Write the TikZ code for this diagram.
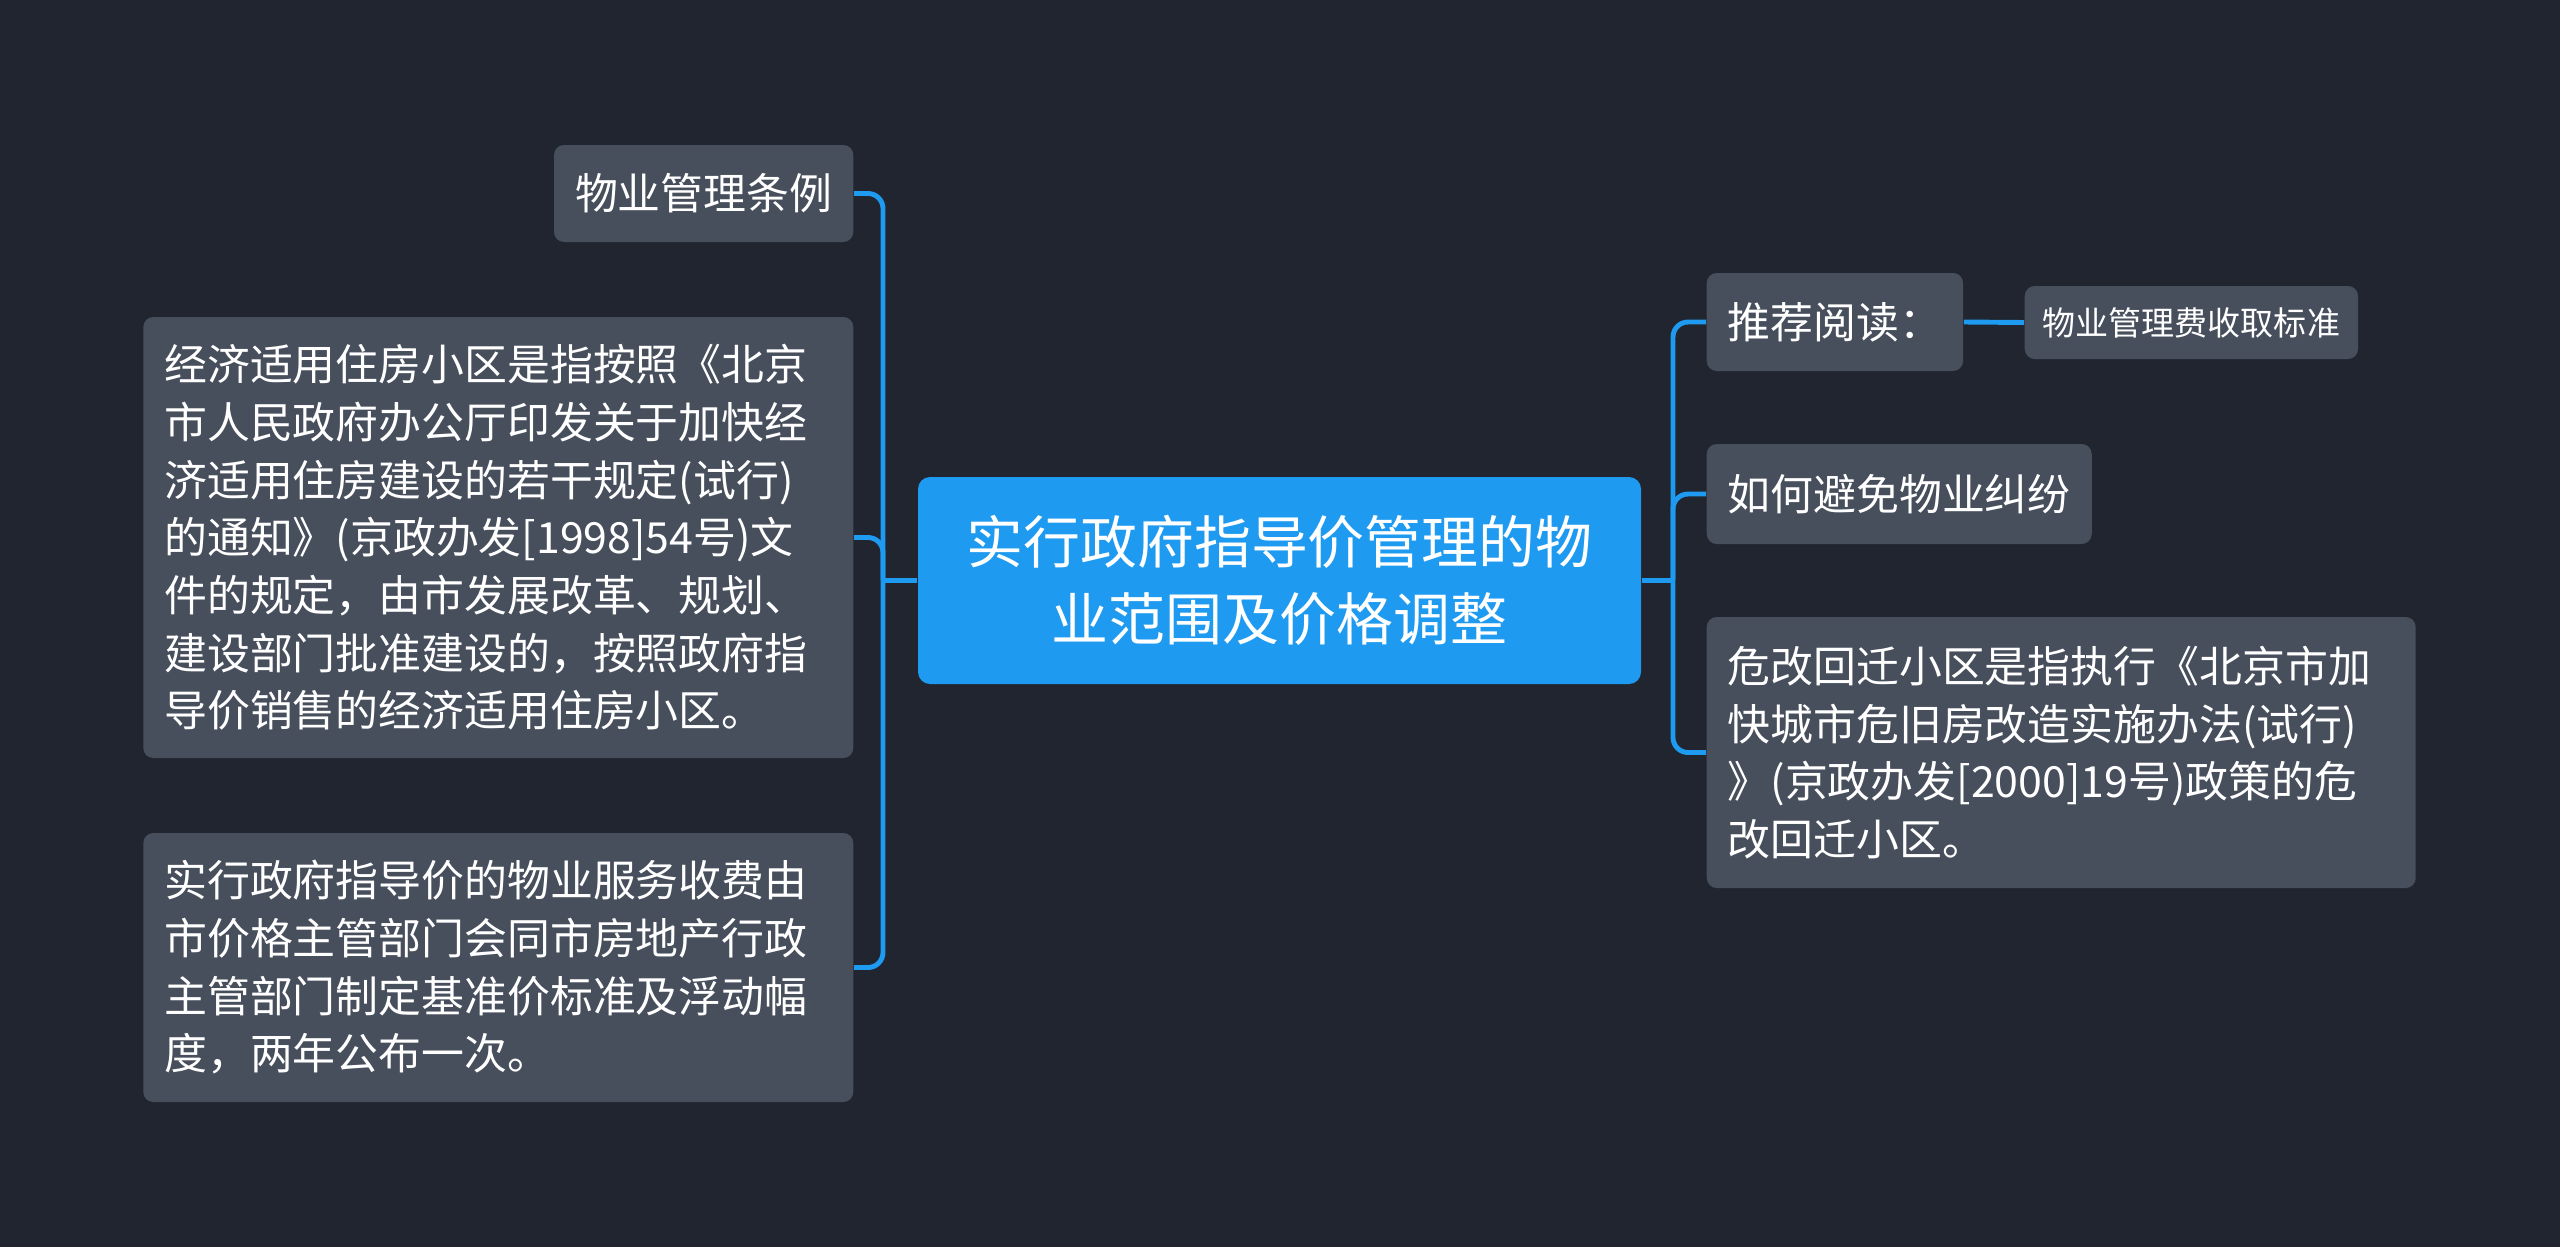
\documentclass[tikz,border=0pt]{standalone}
\usepackage{fontspec}
\setmainfont{Noto Sans CJK SC}
\usepackage{xcolor}
\usepackage{tikz}
\usetikzlibrary{positioning, calc}

\definecolor{bgdark}{HTML}{21252F}
\definecolor{boxgray}{HTML}{474E5C}
\definecolor{linkblue}{HTML}{1E9AF0}

\tikzset{
    topic/.style={fill=boxgray, text=white, rounded corners=0.1cm, inner xsep=0.21cm, inner ysep=0pt,
        font=\fontsize{12.2pt}{16.4pt}\selectfont, align=left},
    subtopic/.style={topic, inner xsep=0.18cm, font=\fontsize{9.4pt}{12pt}\selectfont},
    central/.style={fill=linkblue, text=white, rounded corners=0.12cm, inner sep=0pt,
        minimum width=7.23cm, minimum height=2.07cm, align=center,
        font=\fontsize{16.2pt}{21.8pt}\selectfont},
    link/.style={draw=linkblue, line width=1.4pt, rounded corners=0.15cm}
}

\begin{document}
\begin{tikzpicture}
    \fill[bgdark] (0,0) rectangle (25.6,-12.47);
    \useasboundingbox (0,0) rectangle (25.6,-12.47);

    \coordinate (C) at (12.795,-5.805);
    \coordinate (LB) at (8.83,-5.805);
    \coordinate (RB) at (16.73,-5.805);

    \node[central] (root) at (C) {实行政府指导价管理的物\\业范围及价格调整};

    \node[topic, anchor=east, minimum height=0.97cm] (law) at (8.54,-1.935) {物业管理条例};
    \node[topic, anchor=east, minimum height=4.41cm, text width=6.68cm] (affordable) at (8.54,-5.375)
        {经济适用住房小区是指按照《北京\\市人民政府办公厅印发关于加快经\\济适用住房建设的若干规定(试行)\\的通知》(京政办发[1998]54号)文\\件的规定，由市发展改革、规划、\\建设部门批准建设的，按照政府指\\导价销售的经济适用住房小区。};
    \node[topic, anchor=east, minimum height=2.69cm, text width=6.68cm] (fee) at (8.54,-9.675)
        {实行政府指导价的物业服务收费由\\市价格主管部门会同市房地产行政\\主管部门制定基准价标准及浮动幅\\度，两年公布一次。};

    \node[topic, anchor=west, minimum height=0.98cm] (read) at (17.06,-3.22) {推荐阅读：};
    \node[subtopic, anchor=west, minimum height=0.73cm] (standard) at (20.24,-3.225) {物业管理费收取标准};
    \node[topic, anchor=west, minimum height=1.0cm] (dispute) at (17.06,-4.94) {如何避免物业纠纷};
    \node[topic, anchor=west, minimum height=2.71cm, text width=6.67cm] (relocate) at (17.06,-7.525)
        {危改回迁小区是指执行《北京市加\\快城市危旧房改造实施办法(试行)\\》(京政办发[2000]19号)政策的危\\改回迁小区。};

    \draw[link] (root.west) -- (LB);
    \draw[link] (LB) |- (law.east);
    \draw[link] (LB) |- (affordable.east);
    \draw[link] (LB) |- (fee.east);

    \draw[link] (root.east) -- (RB);
    \draw[link] (RB) |- (read.west);
    \draw[link] (RB) |- (dispute.west);
    \draw[link] (RB) |- (relocate.west);
    \draw[link] (read.east) -- (standard.west);
\end{tikzpicture}
\end{document}
